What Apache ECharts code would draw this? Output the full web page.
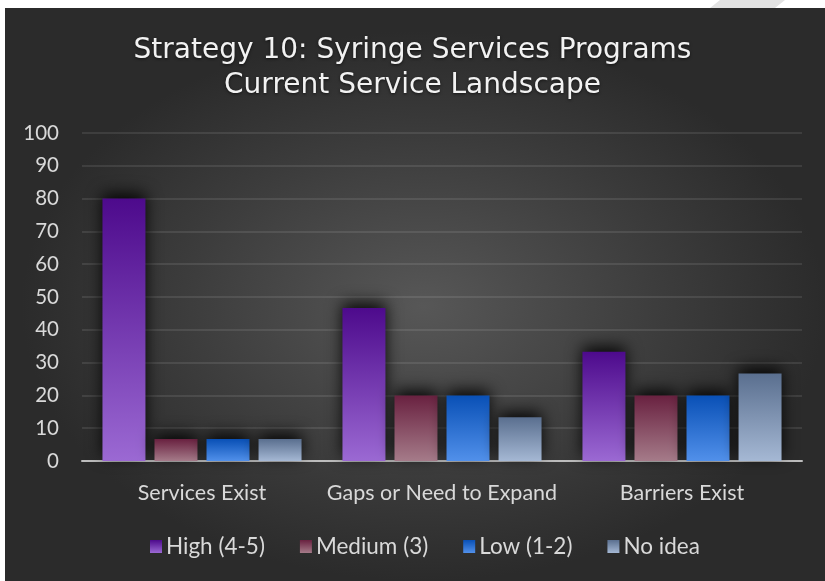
<!DOCTYPE html>
<html>
<head>
<meta charset="utf-8">
<script src="https://cdn.jsdelivr.net/npm/echarts@6/dist/echarts.min.js"></script>
<style>
  html, body { margin: 0; padding: 0; background: #ffffff; }
  #wrap { position: relative; width: 825px; height: 581px; overflow: hidden; background: #ffffff; }
  #panel { position: absolute; left: 5px; top: 8px; width: 820px; height: 573px;
    background: radial-gradient(ellipse closest-side at 51% 52%, #575757 0%, #3c3c3c 60%, #2b2b2b 100%); }
  #stripe { position: absolute; left: 705px; top: 0; width: 90px; height: 8px;
    background: #e2e2e2; clip-path: polygon(15px 0, 80px 0, 70px 8px, 5px 8px); }
  #chart { position: absolute; left: 0; top: 0; width: 825px; height: 581px; }
</style>
</head>
<body>
<div id="wrap">
  <div id="panel"></div>
  <div id="stripe"></div>
  <div id="chart"></div>
</div>
<script>
const titleLines = ['Strategy 10: Syringe Services Programs', 'Current Service Landscape'];
const categories = ['Services Exist', 'Gaps or Need to Expand', 'Barriers Exist'];
const seriesNames = ['High (4-5)', 'Medium (3)', 'Low (1-2)', 'No idea'];
const high = [80, 46.67, 33.33];
const medium = [6.67, 20, 20];
const low = [6.67, 20, 20];
const noIdea = [6.67, 13.33, 26.67];
const yMin = 0, yMax = 100, yInterval = 10;

const palette = [
  ['#4d0a8c', '#9b69d3'],
  ['#692140', '#a57b89'],
  ['#0950b6', '#5190ea'],
  ['#5a6f8f', '#a5b8d4']
];
const values = [high, medium, low, noIdea];

function grad(c) {
  return { type: 'linear', x: 0, y: 0, x2: 0, y2: 1,
    colorStops: [{ offset: 0, color: c[0] }, { offset: 1, color: c[1] }] };
}

const FONT = 'Lato, "Open Sans", sans-serif';
const chart = echarts.init(document.getElementById('chart'), null, { renderer: 'canvas' });
chart.setOption({
  backgroundColor: 'transparent',
  animation: false,
  title: {
    text: titleLines.join('\n'),
    left: 'center',
    top: 28,
    textStyle: {
      fontFamily: '"DejaVu Sans", sans-serif',
      fontSize: 28, fontWeight: 'normal', color: '#f2f2f2', lineHeight: 35,
      textShadowColor: 'rgba(0,0,0,0.6)', textShadowBlur: 3, textShadowOffsetY: 1
    }
  },
  legend: {
    bottom: 18,
    left: 145,
    itemWidth: 12, itemHeight: 13, itemGap: 35,
    icon: 'rect',
    textStyle: { fontFamily: FONT, fontSize: 22.5, color: '#d9d9d9', padding: [0, 0, 0, -1] },
    data: seriesNames
  },
  grid: { left: 82, right: 23, top: 133, bottom: 120 },
  xAxis: {
    type: 'category',
    data: categories,
    axisLine: { lineStyle: { color: '#bdbdbd', width: 2 } },
    axisTick: { show: false },
    axisLabel: { interval: 0, margin: 21, fontFamily: FONT, fontSize: 21.5, color: '#d9d9d9' }
  },
  yAxis: {
    type: 'value',
    min: yMin, max: yMax, interval: yInterval,
    axisLine: { show: false },
    axisTick: { show: false },
    axisLabel: { margin: 23, fontFamily: FONT, fontSize: 20.5, color: '#d9d9d9' },
    splitLine: { lineStyle: { color: 'rgba(255,255,255,0.13)', width: 1.5 } }
  },
  series: seriesNames.map((n, i) => ({
    name: n,
    type: 'bar',
    data: values[i],
    barWidth: 43,
    barGap: '21%',
    itemStyle: {
      color: grad(palette[i]),
      shadowColor: 'rgba(0,0,0,0.9)', shadowBlur: 16, shadowOffsetY: -5
    }
  }))
});
</script>
</body>
</html>
